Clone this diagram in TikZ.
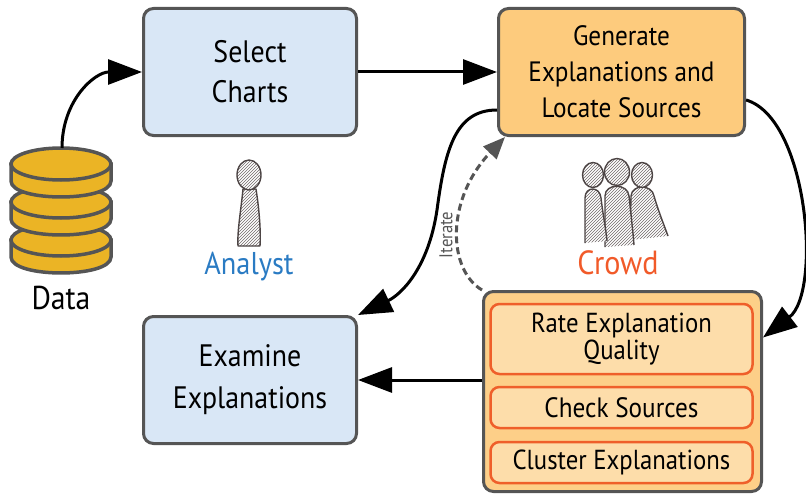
\documentclass[tikz,border=0pt]{standalone}
\usepackage{fontspec}
\setmainfont{PT Sans}[FakeStretch=0.9]
\usetikzlibrary{arrows.meta,patterns}

\definecolor{boxblue}{HTML}{D9E7F6}
\definecolor{edgegray}{HTML}{555555}
\definecolor{genorange}{HTML}{FDCB7D}
\definecolor{crowdfill}{HTML}{FDCF88}
\definecolor{innerfill}{HTML}{FDDDAA}
\definecolor{innerline}{HTML}{EF5F2A}
\definecolor{dbgold}{HTML}{EBB425}
\definecolor{analystblue}{HTML}{2A7BC3}
\definecolor{crowdred}{HTML}{F15A29}
\definecolor{sketch}{HTML}{4D4545}

\tikzset{
  stagebox/.style={draw=edgegray, line width=3pt, rounded corners=10pt,
    inner sep=0pt, align=center},
  bluebox/.style={stagebox, fill=boxblue, minimum width=213pt, minimum height=127pt},
  innerbox/.style={draw=innerline, fill=innerfill, line width=2.5pt,
    rounded corners=9pt, inner sep=0pt, align=center, minimum width=262pt},
  flow/.style={line width=3pt, -{Triangle[length=34pt,width=25pt]}},
  iterflow/.style={line width=3pt, draw=edgegray, dash pattern=on 7pt off 4pt,
    -{Triangle[length=22pt,width=18pt,fill=edgegray]}},
  disk/.style={draw=edgegray, fill=dbgold, line width=3.5pt},
  sketchfig/.style={draw=sketch, line width=1.4pt, line join=round,
    preaction={fill=white}, pattern=north east lines, pattern color=sketch!80},
}

\begin{document}
\begin{tikzpicture}[x=1pt,y=-1pt]
\useasboundingbox (0,0) rectangle (806,495);

% database stack (canvas units), bottom disk first
\filldraw[disk] (11pt,-240pt) -- (11pt,-257pt)
  .. controls (11pt,-278.3pt) and (111pt,-278.3pt) .. (111pt,-257pt)
  -- (111pt,-240pt) -- cycle;
\filldraw[disk] (61pt,-240pt) ellipse [x radius=50pt, y radius=16pt];
\filldraw[disk] (11pt,-202pt) -- (11pt,-219pt)
  .. controls (11pt,-240.3pt) and (111pt,-240.3pt) .. (111pt,-219pt)
  -- (111pt,-202pt) -- cycle;
\filldraw[disk] (61pt,-202pt) ellipse [x radius=50pt, y radius=16pt];
\filldraw[disk] (11pt,-164pt) -- (11pt,-181pt)
  .. controls (11pt,-202.3pt) and (111pt,-202.3pt) .. (111pt,-181pt)
  -- (111pt,-164pt) -- cycle;
\filldraw[disk] (61pt,-164pt) ellipse [x radius=50pt, y radius=16pt];
\coordinate (dbtop) at (62pt,-148pt);
\node[font=\fontsize{33}{38}\selectfont] (data) at (61pt,-298pt) {Data};

% process stages
\node[bluebox, font=\fontsize{31}{40}\selectfont] (sel) at (250,72) {Select\\Charts};
\node[stagebox, fill=genorange, minimum width=246pt, minimum height=127pt,
  font=\fontsize{28}{36}\selectfont] (gen) at (621.5,72)
  {Generate\\Explanations and\\Locate Sources};
\node[bluebox, font=\fontsize{31}{42}\selectfont] (exa) at (250,380)
  {Examine\\Explanations};

% crowd tasks
\node[stagebox, fill=crowdfill, minimum width=278pt, minimum height=200pt]
  (crowd) at (622.5,391.5) {};
\node[innerbox, minimum height=70pt, font=\fontsize{27.5}{27}\selectfont]
  (rate) at (621.5,339) {Rate Explanation\\Quality};
\node[innerbox, minimum height=41pt, font=\fontsize{28}{30}\selectfont]
  (check) at (621.5,407.5) {Check Sources};
\node[innerbox, minimum height=41pt, font=\fontsize{27.5}{30}\selectfont]
  (cluster) at (621.5,462.5) {Cluster Explanations};

% analyst figure
\draw[sketchfig] (243,189) .. controls (241,210) and (237,232) .. (238,246)
  -- (260,246) .. controls (261,230) and (259,208) .. (256,189) -- cycle;
\draw[sketchfig] (249,175) ellipse [x radius=12, y radius=15];
\node[text=analystblue, font=\fontsize{31.5}{36}\selectfont] (analyst) at (249,267) {Analyst};

% crowd figures, back to front
\draw[sketchfig] (630,240) -- (631,196) .. controls (632,184) and (652,184) .. (654,196)
  .. controls (658,210) and (664,225) .. (668,236);
\draw[sketchfig] (642,175) ellipse [x radius=10.5, y radius=12.5];
\draw[sketchfig] (605,247) -- (605,196) .. controls (605,183) and (628,183) .. (629,196)
  .. controls (631,215) and (633,232) .. (634,245);
\draw[sketchfig] (617,172) ellipse [x radius=12.5, y radius=13.5];
\draw[sketchfig] (585,243) -- (585,198) .. controls (585,186) and (600,186) .. (601,198)
  .. controls (603,215) and (606,230) .. (607,241);
\draw[sketchfig] (593,175) ellipse [x radius=10.5, y radius=12.5];
\node[text=crowdred, font=\fontsize{33.5}{38}\selectfont] (crowdlabel) at (618,263) {Crowd};

% connectors
\draw[flow] (dbtop) .. controls (62,100) and (95,72) .. (sel.west);
\draw[flow] (sel.east) -- (gen.west);
\draw[flow] ([yshift=-28pt]gen.east) .. controls (808,118) and (822,292)
  .. ([yshift=54pt]crowd.east);
\draw[flow] ([yshift=-38pt]gen.west) .. controls (455,110) and (445,150) .. (437,210)
  .. controls (428,270) and (400,295) .. (exa.north east);
\draw[flow] (crowd.west |- exa.east) -- (exa.east);
\draw[iterflow] (crowd.north west) .. controls (448,270) and (445,200)
  .. ([xshift=8pt]gen.south west);
\node[rotate=90, text=edgegray, font=\fontsize{18.5}{22}\selectfont]
  (iterlabel) at (446,235) {Iterate};
\end{tikzpicture}
\end{document}
